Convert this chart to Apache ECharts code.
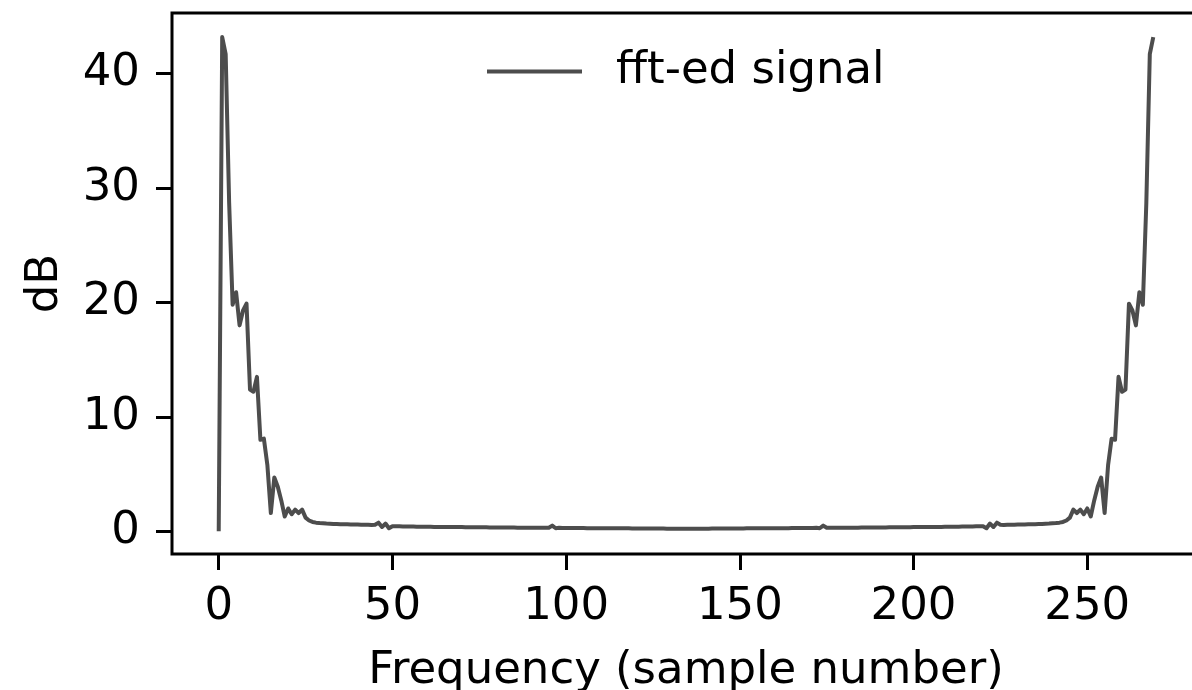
<!DOCTYPE html>
<html>
<head>
<meta charset="utf-8">
<title>fft-ed signal</title>
<script src="https://cdn.jsdelivr.net/npm/echarts@6/dist/echarts.min.js"></script>
<style>
  html, body { margin: 0; padding: 0; background: #ffffff; }
  #chart { width: 1192px; height: 690px; }
</style>
</head>
<body>
<div id="chart"></div>
<script>
// Magnitude spectrum (dB) of a 270-sample signal, one value per FFT bin.
// Bins 0..30: DC and the strong low-frequency lobe
const lowBins = [0.0, 43.2, 41.7, 28.7, 19.8, 20.9, 18.0, 19.3, 19.9, 12.4, 12.2, 13.5, 8.0, 8.1, 5.8, 1.6, 4.7, 3.9, 2.7, 1.3, 2.0, 1.5, 1.9, 1.6, 1.9, 1.2, 0.95, 0.82, 0.76, 0.72, 0.70];

// Bins 31..239: the quiet middle of the spectrum
const midBins = [
  0.68, 0.67, 0.65, 0.64, 0.63, 0.62, 0.61, 0.60, 0.60, 0.59, 0.58, 0.57, 0.57, 0.56, 0.58,
  0.76, 0.38, 0.68, 0.27, 0.45,
  0.44, 0.44, 0.43, 0.43, 0.42, 0.42, 0.41, 0.41, 0.40, 0.40,
  0.40, 0.39, 0.39, 0.39, 0.38, 0.38, 0.38, 0.37, 0.37, 0.37,
  0.36, 0.36, 0.36, 0.35, 0.35, 0.35, 0.35, 0.34, 0.34, 0.34,
  0.34, 0.33, 0.33, 0.33, 0.33, 0.32, 0.32, 0.32, 0.32, 0.32, 0.31, 0.31, 0.31, 0.31,
  0.31, 0.50, 0.27, 0.31,
  0.30, 0.30, 0.30, 0.29, 0.29, 0.29, 0.29, 0.28, 0.28, 0.28, 0.28, 0.27,
  0.27, 0.27, 0.27, 0.26, 0.26, 0.26, 0.26, 0.26, 0.25, 0.25, 0.25, 0.25, 0.25, 0.24, 0.24,
  0.24, 0.24, 0.24, 0.23, 0.23, 0.23, 0.23, 0.23, 0.22, 0.22,
  0.22, 0.23, 0.23, 0.23, 0.23, 0.23, 0.24, 0.24, 0.24,
  0.24, 0.24, 0.25, 0.25, 0.25, 0.25, 0.25, 0.26, 0.26, 0.26, 0.26, 0.26, 0.27, 0.27, 0.27,
  0.27, 0.28, 0.28, 0.28, 0.28, 0.29, 0.29, 0.29, 0.29, 0.30, 0.30, 0.30,
  0.31, 0.27, 0.50, 0.31,
  0.31, 0.31, 0.31, 0.31, 0.32, 0.32, 0.32, 0.32, 0.32, 0.33, 0.33, 0.33, 0.33, 0.34,
  0.34, 0.34, 0.34, 0.35, 0.35, 0.35, 0.35, 0.36, 0.36, 0.36,
  0.37, 0.37, 0.37, 0.38, 0.38, 0.38, 0.39, 0.39, 0.39, 0.40,
  0.40, 0.40, 0.41, 0.41, 0.42, 0.42, 0.43, 0.43, 0.44, 0.44,
  0.45, 0.27, 0.68, 0.38, 0.76,
  0.58, 0.56, 0.57, 0.57, 0.58, 0.59, 0.60, 0.60, 0.61, 0.62, 0.63, 0.64, 0.65, 0.67, 0.68
];

// Bins 240..269: the mirrored high-frequency lobe
const highBins = [0.70, 0.72, 0.76, 0.82, 0.95, 1.2, 1.9, 1.6, 1.9, 1.5, 2.0, 1.3, 2.7, 3.9, 4.7, 1.6, 5.8, 8.1, 8.0, 13.5, 12.2, 12.4, 19.9, 19.3, 18.0, 20.9, 19.8, 28.7, 41.7, 43.2];

const xTicks = [0, 50, 100, 150, 200, 250];
const yTicks = [0, 10, 20, 30, 40];

const spectrum = lowBins.concat(midBins, highBins);
const points = spectrum.map((v, i) => [i, v]);

const FONT = 'DejaVu Sans';
const FONT_SIZE = 45;
const chart = echarts.init(document.getElementById('chart'), null, { renderer: 'canvas' });

chart.setOption({
  animation: false,
  backgroundColor: '#ffffff',
  textStyle: { fontFamily: FONT },
  grid: {
    show: true,
    left: 172,
    top: 13,
    width: 1028,
    height: 541,
    containLabel: false,
    outerBoundsMode: 'none',
    borderColor: '#000000',
    borderWidth: 3,
    backgroundColor: 'transparent'
  },
  legend: {
    left: 487,
    top: 49,
    padding: 0,
    icon: 'rect',
    itemWidth: 95,
    itemHeight: 4,
    textStyle: {
      fontFamily: FONT,
      fontSize: FONT_SIZE,
      color: '#000000',
      padding: [0, 0, 0, 29]
    },
    data: ['fft-ed signal']
  },
  xAxis: {
    type: 'value',
    min: -13.45,
    max: 282.45,
    name: 'Frequency (sample number)',
    nameLocation: 'middle',
    nameGap: 95,
    nameTextStyle: { fontFamily: FONT, fontSize: FONT_SIZE, color: '#000000' },
    axisLine: { show: false, onZero: false },
    splitLine: { show: false },
    axisTick: {
      show: true,
      customValues: xTicks,
      length: 16,
      lineStyle: { color: '#000000', width: 3 }
    },
    axisLabel: {
      customValues: xTicks,
      fontFamily: FONT,
      fontSize: FONT_SIZE,
      color: '#000000',
      margin: 31
    }
  },
  yAxis: {
    type: 'value',
    min: -1.98,
    max: 45.3,
    name: 'dB',
    nameLocation: 'middle',
    nameRotate: 90,
    nameGap: 104,
    nameTextStyle: { fontFamily: FONT, fontSize: FONT_SIZE, color: '#000000' },
    axisLine: { show: false, onZero: false },
    splitLine: { show: false },
    axisTick: {
      show: true,
      customValues: yTicks,
      length: 16,
      lineStyle: { color: '#000000', width: 3 }
    },
    axisLabel: {
      customValues: yTicks,
      fontFamily: FONT,
      fontSize: FONT_SIZE,
      color: '#000000',
      margin: 32
    }
  },
  series: [{
    name: 'fft-ed signal',
    type: 'line',
    data: points,
    symbol: 'none',
    showSymbol: false,
    lineStyle: { color: '#4d4d4d', width: 4, join: 'round' },
    itemStyle: { color: '#4d4d4d' }
  }]
});
</script>
</body>
</html>
